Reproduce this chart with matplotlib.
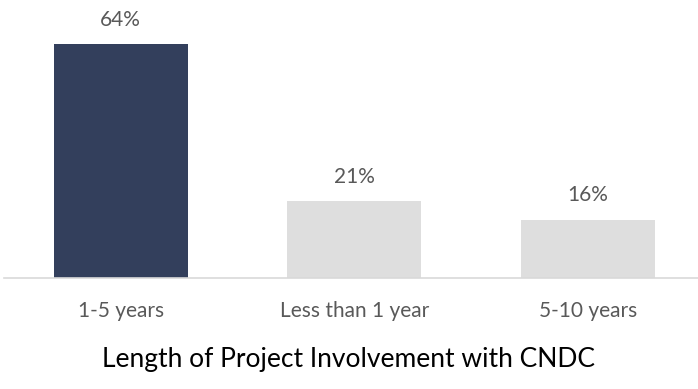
import matplotlib
matplotlib.use("Agg")
import matplotlib.pyplot as plt

categories = ["1-5 years", "Less than 1 year", "5-10 years"]
values = [64, 21, 16]
bar_colors = ["#333F5C", "#DEDEDE", "#DEDEDE"]

plt.rcParams['font.family'] = ['Lato', 'DejaVu Sans']

fig = plt.figure(figsize=(6.98, 3.89), dpi=100)
# axes: left 4px, baseline at 278px from top
ax = fig.add_axes([4 / 698, 111 / 389, 694 / 698, 278 / 389])
ax.set_xlim(-0.5, -0.5 + 694 / 233.5)
ax.set_ylim(0, 278 / 3.656)

x = range(len(categories))
bars = ax.bar(x, values, width=0.574, color=bar_colors)
for i, v in enumerate(values):
    ax.annotate(f"{v}%", (i, v), xytext=(0, 17.5), textcoords="offset points",
                ha="center", va="center", fontsize=15, color="#595959")

ax.set_xticks(list(x))
ax.set_xticklabels(categories, fontsize=15, color="#595959")
ax.tick_params(axis="x", length=0, pad=16.5)
ax.set_yticks([])
for s in ["top", "right", "left"]:
    ax.spines[s].set_visible(False)
ax.spines["bottom"].set_color("#D9D9D9")
ax.spines["bottom"].set_linewidth(1.2)

fig.text(0.5, 1 - 359 / 389, "Length of Project Involvement with CNDC",
         ha="center", va="center", fontsize=19, color="black")

fig.savefig("out.png", dpi=100)
